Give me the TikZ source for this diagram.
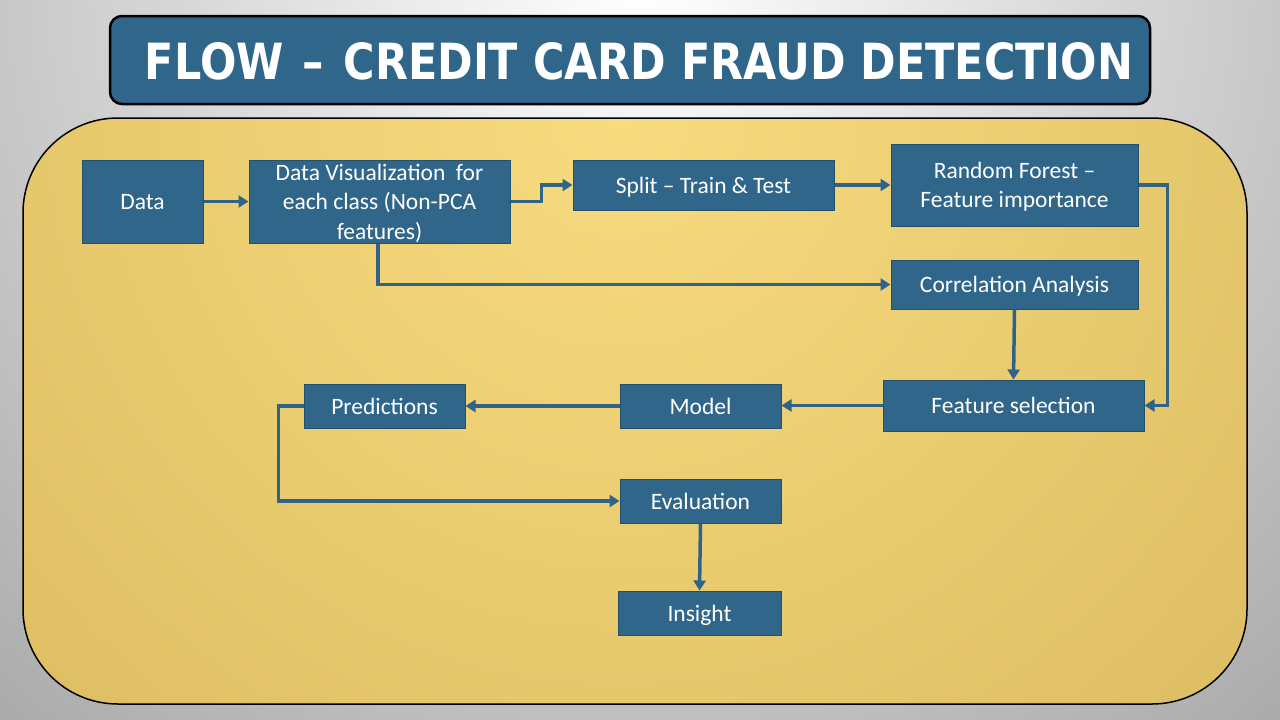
\documentclass[tikz,border=0pt]{standalone}
\usepackage{fontspec}
\setmainfont{Carlito}
\newfontfamily\titlefont{DejaVu Sans}
\usetikzlibrary{arrows.meta}
\definecolor{boxblue}{HTML}{30668A}
\definecolor{boxedge}{HTML}{22506E}
\definecolor{linkblue}{HTML}{2F6488}
\definecolor{goldlight}{HTML}{F8DC80}
\definecolor{golddark}{HTML}{C4A148}
\definecolor{bgdark}{HTML}{757575}
\tikzset{
  flowbox/.style={draw=boxedge, line width=1pt, fill=boxblue, text=white, inner sep=0pt,
    align=center, text depth=0pt, font=\fontsize{23.5}{29.5}\selectfont},
  link/.style={draw=linkblue, line width=3.5pt, -{Triangle[length=10pt,width=12pt]}}
}
\begin{document}
\begin{tikzpicture}[x=1pt,y=-1pt]
\useasboundingbox (0,0) rectangle (1280,720);
% background
\begin{scope}
\clip (0,0) rectangle (1280,720);
\shade[inner color=white, outer color=bgdark] (640,-20) circle (1600);
\end{scope}
% title
\node[draw=black, line width=2.5pt, fill=boxblue, rounded corners=12pt, minimum width=1040pt, minimum height=88pt, inner sep=0pt] (titlebox) at (630,60) {};
\node[text=white, inner sep=0pt] (title) at (639,61.5) {\resizebox{988pt}{37pt}{\titlefont\bfseries FLOW\hspace{0.45em}–\hspace{0.45em}CREDIT CARD FRAUD DETECTION}};
% gold panel
\begin{scope}
\clip[rounded corners=95pt] (23,118) rectangle (1247,704);
\shade[inner color=goldlight, outer color=golddark] (620,110) circle (1650);
\end{scope}
\draw[black, line width=1.5pt, rounded corners=95pt] (23,118) rectangle (1247,704);
% nodes
\node[flowbox, minimum width=121pt, minimum height=83pt] (data) at (142.5,201.5) {Data};
\node[flowbox, minimum width=261pt, minimum height=83pt] (dv) at (379.5,201.5) {Data Visualization\ \ for\\each class (Non-PCA\\features)};
\node[flowbox, minimum width=261pt, minimum height=50pt] (split) at (703.5,185) {Split – Train \& Test};
\node[flowbox, minimum width=247pt, minimum height=82pt] (rf) at (1014.5,185) {Random Forest –\\Feature importance};
\node[flowbox, minimum width=247pt, minimum height=49pt] (corr) at (1014.5,284.5) {Correlation Analysis};
\node[flowbox, minimum width=261pt, minimum height=51pt] (fs) at (1013.5,405.5) {Feature selection};
\node[flowbox, minimum width=161pt, minimum height=44pt] (model) at (700.5,406) {Model};
\node[flowbox, minimum width=161pt, minimum height=44pt] (pred) at (384.5,406) {Predictions};
\node[flowbox, minimum width=161pt, minimum height=44pt] (eval) at (700.5,501) {Evaluation};
\node[flowbox, minimum width=163pt, minimum height=44pt] (ins) at (699.5,613) {Insight};
% connectors
\draw[link] (data) -- (dv);
\draw[link] (dv.east) -- ++(31,0) |- (split.west);
\draw[link] (split) -- (rf);
\draw[link] ([xshift=-1.5pt]dv.south) |- (corr.west);
\draw[link] (rf.east) -- ++(29,0) |- (fs.east);
\draw[link] (corr.south) -- (fs.north);
\draw[link] (fs.west) -- (model.east |- fs.west);
\draw[link] (model) -- (pred);
\draw[link] (pred.west) -- ++(-25,0) |- (eval.west);
\draw[link] (eval.south) -- (ins.north);
\end{tikzpicture}
\end{document}
